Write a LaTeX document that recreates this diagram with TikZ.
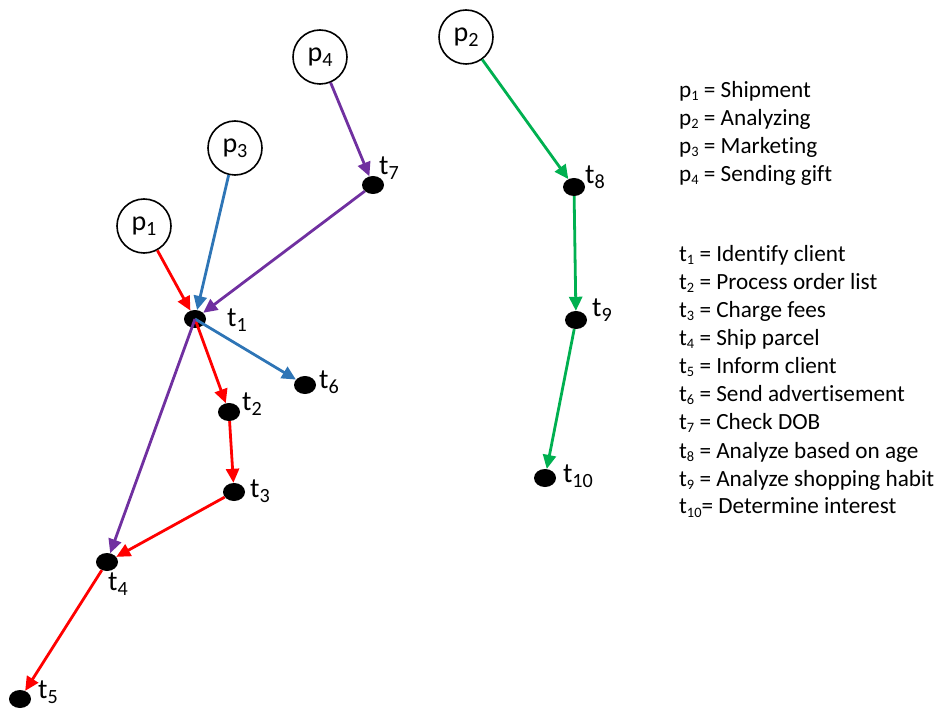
\documentclass[tikz,border=0pt]{standalone}
\usepackage{fontspec}
\setmainfont[Ligatures=NoCommon]{Carlito}
\usetikzlibrary{shapes.geometric,arrows.meta}
\newcommand\lsb[1]{\raisebox{-0.35ex}{\scalebox{0.62}{#1}}}
\newcommand\nsb[1]{\raisebox{-0.4ex}{\scalebox{0.72}{#1}}}
\begin{document}
\begin{tikzpicture}[x=1pt,y=-1pt,
  place/.style={circle,draw=black,line width=1.6pt,minimum size=54pt,inner sep=0pt,font=\fontsize{28}{30}\selectfont},
  trans/.style={ellipse,fill=black,minimum width=22pt,minimum height=18pt,inner sep=0pt},
  lbl/.style={font=\fontsize{28}{30}\selectfont,inner sep=0pt},
  legend/.style={font=\fontsize{23.2}{26}\selectfont,anchor=west,inner sep=0pt},
  arc/.style={line width=2.8pt,-{Triangle[length=14pt,width=13pt]}},
  cred/.style={arc,draw={rgb,255:red,255;green,0;blue,0},color={rgb,255:red,255;green,0;blue,0}},
  cblue/.style={arc,draw={rgb,255:red,46;green,117;blue,182},color={rgb,255:red,46;green,117;blue,182}},
  cpurp/.style={arc,draw={rgb,255:red,112;green,48;blue,160},color={rgb,255:red,112;green,48;blue,160}},
  cgreen/.style={arc,draw={rgb,255:red,0;green,176;blue,80},color={rgb,255:red,0;green,176;blue,80}}]
\useasboundingbox (0,0) rectangle (942,711);
% places
\node[place] (p1) at (144,226) {p\nsb{1}};
\node[place] (p2) at (466,37) {p\nsb{2}};
\node[place] (p3) at (235,148) {p\nsb{3}};
\node[place] (p4) at (320,57) {p\nsb{4}};
% transitions
\node[trans] (t1) at (195,319) {};
\node[trans] (t2) at (229,412) {};
\node[trans] (t3) at (234,492) {};
\node[trans] (t4) at (107,562) {};
\node[trans] (t5) at (20,699) {};
\node[trans] (t6) at (305,385) {};
\node[trans] (t7) at (373,185) {};
\node[trans] (t8) at (574,187) {};
\node[trans] (t9) at (576,320) {};
\node[trans] (t10) at (545,478) {};
% transition labels
\node[lbl] (lt1) at (237,320) {t\nsb{1}};
\node[lbl] (lt2) at (252,404) {t\nsb{2}};
\node[lbl] (lt3) at (260,491) {t\nsb{3}};
\node[lbl] (lt4) at (118,584) {t\nsb{4}};
\node[lbl] (lt5) at (48,692) {t\nsb{5}};
\node[lbl] (lt6) at (329,382) {t\nsb{6}};
\node[lbl] (lt7) at (389,168) {t\nsb{7}};
\node[lbl] (lt8) at (595,177) {t\nsb{8}};
\node[lbl] (lt9) at (602,310) {t\nsb{9}};
\node[lbl] (lt10) at (578,476) {t\nsb{10}};
% arcs
\draw[cred] (p1) -- (t1);
\draw[cblue] (p3) -- (t1);
\draw[cpurp] (p4) -- (t7);
\draw[cpurp] (t7) -- (t1);
\draw[cred] (t1.center) -- (t2);
\draw[cblue] (t1.center) -- (t6);
\draw[cpurp] (t1.center) -- (t4);
\draw[cred] (t2) -- (t3);
\draw[cred] (t3) -- (t4);
\draw[cred] (t4) -- (t5);
\draw[cgreen] (p2) -- (t8);
\draw[cgreen] (t8) -- (t9);
\draw[cgreen] (t9) -- (t10);
% legend
\node[legend] (l1) at (679,91) {p\lsb{1} = Shipment};
\node[legend] (l2) at (679,119) {p\lsb{2} = Analyzing};
\node[legend] (l3) at (679,147) {p\lsb{3} = Marketing};
\node[legend] (l4) at (679,175) {p\lsb{4} = Sending gift};
\node[legend] (m1) at (679,255) {t\lsb{1} = Identify client};
\node[legend] (m2) at (679,283) {t\lsb{2} = Process order list};
\node[legend] (m3) at (679,311) {t\lsb{3} = Charge fees};
\node[legend] (m4) at (679,339) {t\lsb{4} = Ship parcel};
\node[legend] (m5) at (679,367) {t\lsb{5} = Inform client};
\node[legend] (m6) at (679,395) {t\lsb{6} = Send advertisement};
\node[legend] (m7) at (679,423) {t\lsb{7} = Check DOB};
\node[legend] (m8) at (679,452) {t\lsb{8} = Analyze based on age};
\node[legend] (m9) at (679,480) {t\lsb{9} = Analyze shopping habit};
\node[legend] (m10) at (679,508) {t\lsb{10}= Determine interest};
\end{tikzpicture}
\end{document}
